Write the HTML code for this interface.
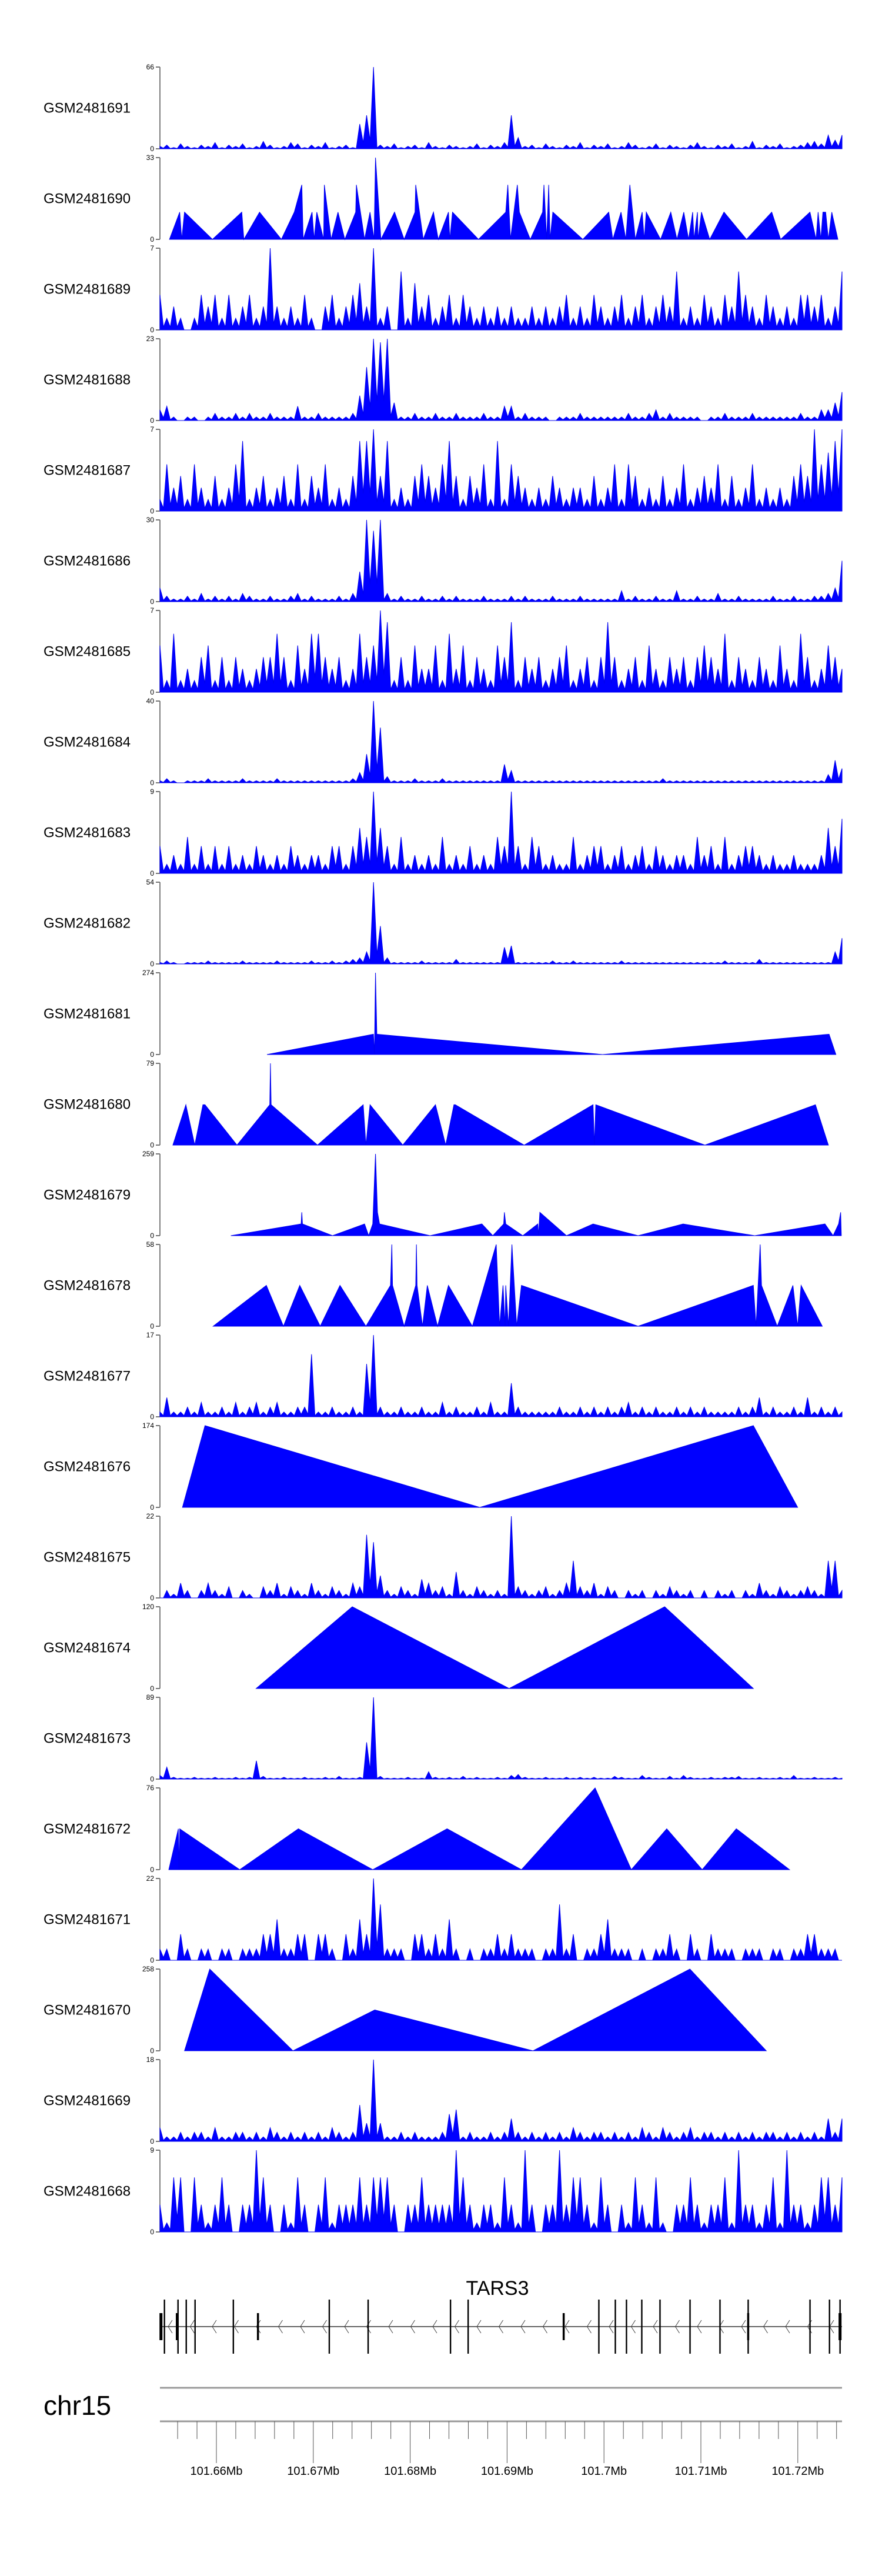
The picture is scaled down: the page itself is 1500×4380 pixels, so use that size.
<!DOCTYPE html>
<html><head><meta charset="utf-8"><style>
html,body{margin:0;padding:0;background:#fff;}
svg{display:block;font-family:"Liberation Sans",Arial,sans-serif;}
</style></head>
<body>
<svg id="fig" width="1500" height="4380" viewBox="0 0 1500 4380" xmlns="http://www.w3.org/2000/svg">
<rect x="0" y="0" width="1500" height="4380" fill="#fff"/>
<g id="tracks"></g>
<g id="gene">
<text x="846" y="3902" font-size="34" text-anchor="middle">TARS3</text>
</g>
<g id="axis">
<text x="74" y="4106" font-size="46">chr15</text>
</g>
</svg>
<script>
// ---------- DATA ----------
const sampleNames = ["GSM2481691","GSM2481690","GSM2481689","GSM2481688","GSM2481687","GSM2481686","GSM2481685","GSM2481684","GSM2481683","GSM2481682","GSM2481681","GSM2481680","GSM2481679","GSM2481678","GSM2481677","GSM2481676","GSM2481675","GSM2481674","GSM2481673","GSM2481672","GSM2481671","GSM2481670","GSM2481669","GSM2481668"];
const yMax = [66,33,7,23,7,30,7,40,9,54,274,79,259,58,17,174,22,120,89,76,22,258,18,9];

// dense coverage tracks: evenly spaced bins across the region
const cov1 = [2,3,1,4,2,1,3,2,5,1,3,2,4,1,2,6,3,1,2,5,4,1,3,2,5,1,2,3,1,20,27,66,3,2,4,1,2,3,1,5,2,1,3,2,1,2,4,1,3,2,5,27,9,2,3,1,4,2,1,3,2,5,1,3,2,4,1,2,5,3,1,2,4,1,3,2,1,3,5,2,1,3,2,4,1,2,6,1,3,2,4,1,2,3,5,6,4,11,7,11];
const cov3 = [3,1,2,1,0,1,3,2,3,1,3,1,2,3,1,2,7,2,1,2,1,3,1,0,2,3,1,2,3,4,2,7,1,2,0,5,1,4,2,3,1,2,3,1,3,2,1,2,1,2,1,2,1,1,2,1,2,1,2,3,1,2,1,3,2,1,2,3,1,2,3,1,2,3,2,5,1,2,1,3,2,1,3,2,5,3,2,1,3,2,1,2,1,3,3,2,3,1,2,5];
const cov4 = [3,4,1,0,1,1,0,1,2,1,1,2,1,2,1,1,2,1,1,1,4,1,1,2,1,1,1,1,2,7,15,23,22,23,5,1,1,2,1,1,2,1,1,2,1,1,1,2,1,1,4,4,1,2,1,1,1,0,1,1,1,2,1,1,1,1,1,1,2,1,1,2,3,1,2,1,1,1,1,0,1,1,2,1,1,1,2,1,1,1,1,1,1,2,1,1,3,3,5,8];
const cov5 = [1,4,2,3,1,4,2,1,3,1,2,4,6,1,2,3,1,2,3,1,4,1,3,2,4,1,2,1,3,6,6,7,3,6,1,2,1,3,4,3,2,4,6,3,1,3,2,4,1,6,1,4,3,2,1,2,1,3,2,1,2,2,1,3,1,2,4,1,4,3,1,2,1,3,1,2,4,1,2,3,2,4,1,3,1,2,4,1,2,1,2,1,3,4,3,7,4,5,6,7];
const cov6 = [5,2,1,1,2,1,3,1,2,1,2,1,3,2,1,1,2,1,1,2,3,1,2,1,1,1,2,1,3,11,30,26,30,3,1,2,1,1,2,1,1,2,1,2,1,1,1,2,1,1,1,2,1,2,1,1,1,2,1,1,1,2,1,1,1,1,1,4,1,2,1,1,2,1,1,4,1,1,2,1,1,3,1,1,2,1,1,1,1,2,1,1,2,1,1,2,2,3,5,15];
const cov7 = [4,1,5,1,2,1,3,4,1,3,1,3,2,1,2,3,3,5,3,1,4,2,5,5,3,2,3,1,2,5,3,4,7,6,1,3,1,4,2,2,4,1,5,2,4,1,3,2,1,4,3,6,1,3,2,3,1,2,3,4,1,2,3,1,3,6,3,1,2,3,1,4,2,1,3,2,3,1,3,4,3,2,5,1,3,2,1,3,2,1,4,2,1,5,3,1,2,4,3,2];
const cov8 = [1,2,1,0,1,1,1,2,1,1,1,1,2,1,1,1,1,2,1,1,1,1,1,1,1,1,1,1,2,5,14,40,27,3,1,1,1,2,1,1,1,2,1,1,1,1,1,1,1,1,9,6,1,1,1,1,1,1,1,1,1,1,1,1,1,1,1,1,1,1,1,1,1,2,1,1,1,1,1,1,1,1,1,1,1,1,1,1,1,1,1,1,1,1,1,1,1,4,11,7];
const cov9 = [3,1,2,1,4,1,3,1,3,1,3,1,2,1,3,2,1,2,1,3,2,1,2,2,1,3,3,1,3,5,4,9,5,3,1,4,1,2,1,2,1,4,1,2,1,3,1,2,1,4,3,9,3,1,4,3,1,2,1,1,4,1,2,3,3,1,2,3,1,2,3,1,3,2,1,2,2,1,4,2,3,1,4,1,2,3,3,2,1,2,1,1,2,1,1,1,2,5,3,6];
const cov10 = [1,2,1,0,1,1,1,2,1,1,1,1,2,1,1,1,1,2,1,1,1,1,2,1,1,2,1,2,3,4,8,54,25,4,1,1,1,1,2,1,1,1,1,3,1,1,1,1,1,1,11,12,1,1,1,1,1,2,1,1,2,1,1,1,1,1,1,2,1,1,1,1,1,1,1,1,1,1,1,1,1,1,2,1,1,1,1,3,1,1,1,1,1,1,1,1,1,1,8,17];
const cov15 = [1,4,1,1,2,1,3,1,1,2,1,3,1,2,3,1,2,3,1,1,2,2,13,1,1,2,1,1,2,1,11,17,2,1,1,2,1,1,2,1,1,3,1,2,1,1,2,1,3,1,1,7,2,1,1,1,1,1,2,1,1,2,1,2,1,2,1,2,3,1,2,1,2,1,1,2,1,2,1,2,1,1,1,1,2,1,2,4,1,2,1,1,2,1,4,1,2,1,2,1];
const cov17 = [0,2,1,4,2,0,2,4,2,1,3,0,2,1,0,3,2,4,1,3,2,1,4,2,1,3,2,1,4,3,17,15,6,2,1,3,2,1,5,4,2,3,1,7,2,1,3,2,1,2,1,22,3,2,1,2,3,1,2,4,10,3,2,4,1,3,2,0,2,1,2,0,2,1,3,2,1,2,0,2,0,2,1,2,0,2,1,4,2,1,3,2,1,2,3,2,1,10,10,2];
const cov19 = [4,13,2,1,1,2,1,1,2,1,1,2,1,2,20,3,1,1,2,1,1,2,1,1,2,1,3,1,1,2,40,89,3,1,1,1,2,1,1,8,2,1,2,1,3,1,2,1,1,2,1,4,5,2,1,1,2,1,1,2,1,2,1,2,1,1,3,2,1,1,4,2,1,1,3,1,4,2,1,1,2,1,2,2,3,1,1,2,1,1,2,1,4,1,1,2,1,1,2,1];
const cov21 = [3,3,0,7,3,0,3,3,0,3,3,0,3,3,3,7,7,11,3,3,7,7,0,7,7,3,0,7,3,11,7,22,15,3,3,3,0,7,7,3,7,3,11,3,0,3,0,3,3,7,3,7,3,3,3,0,3,3,15,3,7,0,3,3,7,11,3,3,3,0,3,0,3,3,7,3,0,7,3,0,7,3,3,3,0,3,3,3,0,3,3,0,3,3,7,7,3,3,3,0];
const cov23 = [3,1,1,2,1,2,2,1,3,1,1,2,2,1,2,1,3,2,1,2,1,2,1,2,1,3,2,1,2,8,4,18,4,1,1,2,1,2,1,1,1,2,6,7,1,2,1,1,2,1,2,5,2,1,2,1,2,1,2,1,3,2,1,2,2,1,2,1,2,1,3,2,1,3,2,1,2,3,1,2,2,1,2,1,2,1,2,1,2,2,1,2,1,2,1,2,1,5,2,5];
const cov24 = [3,1,6,6,0,6,3,1,3,6,3,0,3,3,9,6,3,0,3,1,6,3,0,3,6,1,3,3,3,6,3,6,6,6,3,0,3,3,6,3,3,3,3,9,6,3,1,3,3,1,6,3,1,9,3,0,3,3,9,3,6,6,3,1,6,3,0,3,1,6,3,1,6,1,0,3,3,6,3,1,3,3,6,1,9,3,3,1,3,6,1,9,3,3,1,3,6,6,3,6];

// sparse tracks: [position % of region, value]
const pts2 = [[1.4,0],[2.9,11],[3.2,0],[3.6,11],[7.7,0],[12.0,11],[12.3,0],[14.6,11],[17.8,0],[19.7,11],[20.8,22],[21.0,0],[22.3,11],[22.6,0],[23.0,11],[24.0,0],[24.1,22],[25.1,0],[26.1,11],[27.1,0],[28.7,11],[28.8,22],[30.0,0],[30.8,11],[31.4,0],[31.6,33],[32.4,0],[34.4,11],[35.8,0],[37.4,11],[37.5,22],[38.6,0],[40.1,11],[40.8,0],[42.3,11],[42.5,0],[42.9,11],[46.7,0],[50.7,11],[51.0,22],[51.4,0],[52.4,22],[52.7,11],[54.3,0],[56.1,11],[56.3,22],[56.7,0],[57.0,22],[57.2,0],[57.6,11],[62.0,0],[65.8,11],[66.4,0],[67.6,11],[68.3,0],[68.6,11],[68.9,22],[69.7,0],[70.7,11],[71.0,0],[71.3,11],[73.4,0],[74.9,11],[75.8,0],[76.8,11],[77.5,0],[78.1,11],[78.3,0],[78.8,11],[78.9,0],[79.4,11],[80.6,0],[82.7,11],[86.0,0],[89.7,11],[91.0,0],[95.3,11],[96.2,0],[96.5,11],[96.9,0],[97.2,11],[97.6,11],[98.0,0],[98.5,11],[99.4,0]];
const pts11 = [[15.7,0],[31.3,68],[31.45,0],[31.6,274],[31.8,68],[64.9,0],[98.1,68],[99.1,0]];
const pts12 = [[1.9,0],[3.8,39],[5.1,0],[6.3,39],[6.6,39],[11.3,0],[16.1,39],[16.2,79],[16.3,39],[23.1,0],[29.8,39],[30.2,0],[30.8,39],[35.6,0],[40.4,39],[41.9,0],[43.1,39],[43.3,39],[53.4,0],[63.5,39],[63.7,0],[63.9,39],[79.9,0],[96.1,39],[98.0,0]];
const pts13 = [[10.4,0],[20.7,37],[20.8,74],[20.9,37],[25.3,0],[30.0,37],[30.6,0],[31.2,37],[31.6,259],[31.9,74],[32.2,37],[39.6,0],[47.2,37],[48.8,0],[50.4,37],[50.5,74],[50.7,37],[53.2,0],[55.4,37],[55.5,0],[55.7,74],[59.6,0],[63.5,37],[70.1,0],[76.7,37],[87.2,0],[97.5,37],[98.7,0],[99.5,37],[99.8,74],[99.9,0]];
const pts14 = [[7.8,0],[15.6,29],[18.1,0],[20.5,29],[23.5,0],[26.4,29],[30.2,0],[33.8,29],[34.0,58],[34.1,29],[35.8,0],[37.5,29],[37.6,58],[37.7,29],[38.5,0],[39.2,29],[40.7,0],[42.3,29],[45.8,0],[49.3,58],[49.8,0],[50.3,29],[50.6,0],[50.7,29],[51.1,0],[51.6,58],[52.3,0],[53.0,29],[70.1,0],[87.0,29],[87.4,0],[88.0,58],[88.2,29],[90.5,0],[92.8,29],[93.5,0],[94.0,29],[97.1,0]];
const pts16 = [[3.3,0],[6.6,174],[46.9,0],[87.0,174],[93.5,0]];
const pts18 = [[14.1,0],[28.2,120],[51.2,0],[74.0,120],[87.0,0]];
const pts20 = [[1.3,0],[2.7,38],[2.8,0],[2.9,38],[11.7,0],[20.3,38],[31.2,0],[42.1,38],[53.0,0],[63.8,76],[69.1,0],[74.3,38],[79.5,0],[84.5,38],[92.3,0]];
const pts22 = [[3.6,0],[7.3,258],[19.5,0],[31.5,129],[54.7,0],[77.7,258],[88.9,0]];

const trackSeries = [cov1,pts2,cov3,cov4,cov5,cov6,cov7,cov8,cov9,cov10,pts11,pts12,pts13,pts14,cov15,pts16,cov17,pts18,cov19,pts20,cov21,pts22,cov23,cov24];

// gene model (exon x positions as Mb)
const exonTall = [101.65464,101.65604,101.65689,101.6578,101.66175,101.67165,101.67566,101.68416,101.68598,101.69947,101.70117,101.70232,101.7039,101.70578,101.70888,101.71197,101.71488,101.72126,101.72327,101.72436];
const exonMid = [101.65428,101.65592,101.66429,101.69584,101.71488,101.72436];
const majorTicks = [101.66,101.67,101.68,101.69,101.70,101.71,101.72];
const tickLabels = ["101.66Mb","101.67Mb","101.68Mb","101.69Mb","101.7Mb","101.71Mb","101.72Mb"];

// ---------- LAYOUT ----------
const NS = "http://www.w3.org/2000/svg";
const X0 = 272, X1 = 1432, TOP0 = 114, STEP = 154, TH = 139;
function xMb(mb){ return 368 + (mb - 101.66) * 16480; }
function xPct(p){ return X0 + p / 100 * (X1 - X0); }
function mk(tag, attrs, parent){
  const e = document.createElementNS(NS, tag);
  for (const k in attrs) e.setAttribute(k, attrs[k]);
  parent.appendChild(e);
  return e;
}
const gT = document.getElementById('tracks');
trackSeries.forEach(function(series, i){
  const top = TOP0 + STEP * i, base = top + TH;
  const yv = function(v){ return base - v / yMax[i] * TH; };
  const g = mk('g', {}, gT);
  
  
  const lab = mk('text', {x: 74, y: (top + base) / 2 + 8, 'font-size': 24}, g);
  lab.textContent = sampleNames[i];
  
  
  const ax = mk('line', {x1: X0, x2: X0, y1: top, y2: base, stroke: '#555', 'stroke-width': 1.5}, g);
  
  
  [[yMax[i], top], [0, base]].forEach(function(t){
    const tk = mk('line', {x1: X0 - 7, x2: X0, y1: t[1], y2: t[1], stroke: '#777', 'stroke-width': 2}, g);
    
    
    const tl = mk('text', {x: X0 - 10, y: t[1] + 4, 'font-size': 12, 'text-anchor': 'end'}, g);
    tl.textContent = String(t[0]);
    
    
  });
  let pts = [];
  if (typeof series[0] === 'number') {
    const n = series.length;
    pts.push([X0, base]);
    series.forEach(function(v, j){
      const x = xPct(j / (n - 1) * 100);
      if (j > 0) {
        const xp = xPct((j - 1) / (n - 1) * 100);
        const low = Math.min(v, series[j - 1]) * 0.25;
        pts.push([(xp + x) / 2, yv(low)]);
      }
      pts.push([x, yv(v)]);
    });
    pts.push([X1, base]);
  } else {
    pts.push([xPct(series[0][0]), base]);
    series.forEach(function(p){ pts.push([xPct(p[0]), yv(p[1])]); });
    pts.push([xPct(series[series.length - 1][0]), base]);
  }
  const area = mk('polygon', {points: pts.map(function(p){ return p[0].toFixed(1) + ',' + p[1].toFixed(1); }).join(' '), fill: '#0000ff', stroke: '#0000ee', 'stroke-width': 1}, g);
  
  
});

// gene track
const gG = document.getElementById('gene');
const GY = 3956;
const bb = mk('line', {x1: X0, x2: X1, y1: GY, y2: GY, stroke: '#333', 'stroke-width': 1.5}, gG);


for (let x = X0 + 16; x < X1 - 8; x += 37.5) {
  const ch = mk('polyline', {points: (x + 5) + ',' + (GY - 11) + ' ' + (x - 2) + ',' + GY + ' ' + (x + 5) + ',' + (GY + 11), fill: 'none', stroke: '#444', 'stroke-width': 1}, gG);
  
  
}
exonTall.forEach(function(m){
  const e = mk('rect', {x: xMb(m) - 1.2, y: 3910, width: 2.4, height: 92, fill: '#000'}, gG);
  
  
});
exonMid.forEach(function(m, k){
  const w = (k === 0 || k === exonMid.length - 1) ? 5 : 3.5;
  const e = mk('rect', {x: xMb(m) - w / 2, y: 3933, width: w, height: 46, fill: '#000'}, gG);
  
  
});

// genome axis
const gA = document.getElementById('axis');
[4060, 4117].forEach(function(y){
  const l = mk('line', {x1: X0, x2: X1, y1: y, y2: y, stroke: '#999', 'stroke-width': 3}, gA);
  
  
});
for (let kb = -4; kb <= 70; kb += 2) {
  const x = xMb(101.66 + kb / 1000);
  if (x < X0 + 5 || x > X1) continue;
  const major = kb % 10 === 0;
  const t = mk('line', {x1: x, x2: x, y1: 4117, y2: major ? 4188 : 4147, stroke: '#555', 'stroke-width': 1}, gA);
  
  
}
majorTicks.forEach(function(m, k){
  const t = mk('text', {x: xMb(m), y: 4208, 'font-size': 20, 'text-anchor': 'middle'}, gA);
  t.textContent = tickLabels[k];
  
  
});
</script>
</body></html>
